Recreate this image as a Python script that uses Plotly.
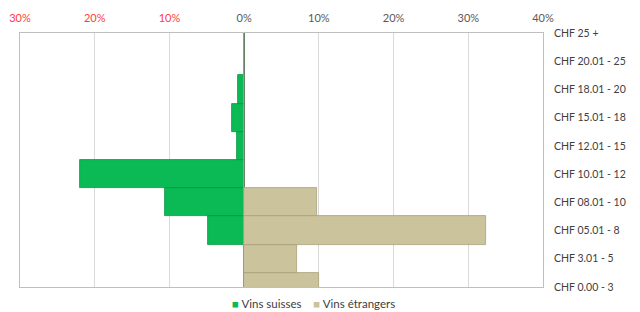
import plotly.graph_objects as go

categories = ["CHF 0.00 - 3", "CHF 3.01 - 5", "CHF 05.01 - 8", "CHF 08.01 - 10",
              "CHF 10.01 - 12", "CHF 12.01 - 15", "CHF 15.01 - 18", "CHF 18.01 - 20",
              "CHF 20.01 - 25", "CHF 25 +"]
vins_suisses = [0.0, 0.0, 4.8, 10.6, 22.0, 1.0, 1.6, 0.8, 0.0, 0.0]
vins_etrangers = [10.0, 7.1, 32.4, 9.8, 0.0, 0.0, 0.0, 0.0, 0.0, 0.0]
tick_vals = [-30, -20, -10, 0, 10, 20, 30, 40]
tick_text = ["30%", "20%", "10%", "0%", "10%", "20%", "30%", "40%"]
series_names = ["Vins suisses", "Vins étrangers"]

font_family = "Lato, 'Open Sans', sans-serif"
green = "#0BBA55"
tan = "#CBC39B"

ticktext = [
    f"<span style='color:#FF3B3B'>{t}</span>" if v < 0 else t
    for v, t in zip(tick_vals, tick_text)
]

fig = go.Figure()
fig.add_trace(go.Bar(
    y=categories, x=[-v for v in vins_suisses], orientation="h",
    name=series_names[0], width=1.0, showlegend=False,
    marker=dict(color=green, line=dict(color="#07943F", width=0.8)),
))
fig.add_trace(go.Bar(
    y=categories, x=vins_etrangers, orientation="h",
    name=series_names[1], width=1.0, showlegend=False,
    marker=dict(color=tan, line=dict(color="#A79F77", width=0.8)),
))

# compact legend (Excel style: small square + label)
legend_text = (
    f"<span style='color:{green}'>■</span> {series_names[0]}"
    "&nbsp;&nbsp;&nbsp;&nbsp;"
    f"<span style='color:{tan}'>■</span> {series_names[1]}"
)
fig.add_annotation(
    text=legend_text, xref="paper", yref="paper", x=0.562, y=-0.066,
    xanchor="center", yanchor="middle", showarrow=False,
    font=dict(family=font_family, size=11.5, color="#404040"),
)

fig.update_layout(
    width=640, height=312,
    margin=dict(l=20, r=97, t=33, b=25, autoexpand=False),
    paper_bgcolor="white", plot_bgcolor="white",
    barmode="overlay", bargap=0,
    font=dict(family=font_family, size=10.5, color="#595959"),
    showlegend=False,
    xaxis=dict(
        side="top", range=[-30, 40], tickvals=tick_vals, ticktext=ticktext,
        showgrid=True, gridcolor="#D9D9D9", gridwidth=1,
        zeroline=True, zerolinecolor="#6B7B6B", zerolinewidth=1,
        showline=True, linecolor="#BFBFBF", mirror=True, automargin=False,
        ticks="", ticklabelstandoff=6, tickfont=dict(size=11, color="#595959"),
        fixedrange=True,
    ),
    yaxis=dict(
        side="right", type="category", categoryorder="array", categoryarray=categories,
        range=[0, 9], showgrid=False, zeroline=False, automargin=False,
        showline=True, linecolor="#BFBFBF", mirror=True,
        ticks="", ticklabelstandoff=8, tickfont=dict(size=10.5, color="#404040"),
        fixedrange=True,
    ),
)

fig.write_html("out.html", config={"displayModeBar": False},
               post_script="document.body.style.margin='0';document.body.style.overflow='hidden';")
